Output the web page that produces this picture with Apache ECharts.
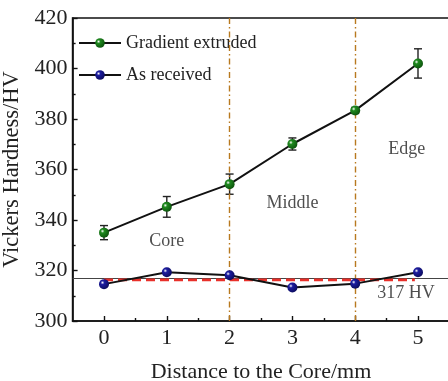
<!DOCTYPE html>
<html>
<head>
<meta charset="utf-8">
<script src="https://cdn.jsdelivr.net/npm/echarts@6/dist/echarts.min.js"></script>
<style>
  html, body { margin: 0; padding: 0; background: #fff; }
  #chart { width: 448px; height: 381px; }
</style>
</head>
<body>
<div id="chart"></div>
<script>
// Distance from the core (mm)
const distances = [0, 1, 2, 3, 4, 5];
// Hardness of the gradient-extruded sample and its scatter
const gradientHV = [335, 345.2, 354.2, 370.1, 383.4, 402];
const gradientErr = [2.8, 4.1, 4.0, 2.4, 1.2, 5.8];
// Hardness of the as-received sample
const receivedHV = [314.6, 319.3, 318.1, 313.3, 314.8, 319.3];
// Reference level and zone borders
const baseHV = 317;
const fitHV = [316.3, 316.3];
const fitX = [0, 4.95];
const zoneBorders = [2, 4];
const zoneLabels = [
  { name: 'Core', x: 1.0, y: 331.5 },
  { name: 'Middle', x: 3.0, y: 346.7 },
  { name: 'Edge', x: 4.82, y: 368 },
  { name: '317 HV', x: 4.81, y: 310.8 }
];
const xTicks = [0, 1, 2, 3, 4, 5];
const xMinorTicks = [0.5, 1.5, 2.5, 3.5, 4.5];

const FONT = '"Liberation Serif", "Times New Roman", serif';

function ball(c0, c1) {
  return {
    type: 'radial', x: 0.35, y: 0.35, r: 0.75,
    colorStops: [
      { offset: 0, color: '#ffffff' },
      { offset: 0.25, color: c0 },
      { offset: 1, color: c1 }
    ]
  };
}

const chart = echarts.init(document.getElementById('chart'), null, { renderer: 'canvas' });

const axisCommon = {
  min: -0.5, max: 5.5, type: 'value',
  splitLine: { show: false }
};

chart.setOption({
  animation: false,
  backgroundColor: '#ffffff',
  textStyle: { fontFamily: FONT, color: '#222' },
  grid: {
    left: 72.6, right: -1.4, top: 18, bottom: 60,
    outerBoundsMode: 'none', containLabel: false,
    show: true, borderColor: '#111', borderWidth: 1.6, backgroundColor: 'transparent'
  },
  legend: {
    orient: 'vertical', left: 78, top: 34, padding: 0, itemGap: 14,
    itemWidth: 42, itemHeight: 12,
    textStyle: { fontFamily: FONT, fontSize: 18, color: '#222' },
    data: ['Gradient extruded', 'As received']
  },
  xAxis: [
    Object.assign({}, axisCommon, {
      name: 'Distance to the Core/mm', nameLocation: 'middle', nameGap: 40,
      nameTextStyle: { fontFamily: FONT, fontSize: 22, color: '#222' },
      axisLine: { show: true, onZero: false, lineStyle: { color: '#111', width: 1.6 } },
      axisTick: { show: true, inside: true, length: 5, customValues: xTicks, lineStyle: { color: '#111', width: 1.4 } },
      axisLabel: { customValues: xTicks, fontFamily: FONT, fontSize: 22, color: '#222', margin: 6 }
    }),
    Object.assign({}, axisCommon, {
      position: 'bottom',
      axisLine: { show: false, onZero: false },
      axisTick: { show: true, inside: true, length: 3, customValues: xMinorTicks, lineStyle: { color: '#111', width: 1.4 } },
      axisLabel: { show: false }
    })
  ],
  yAxis: {
    type: 'value', min: 300, max: 420, interval: 20,
    name: 'Vickers Hardness/HV', nameLocation: 'middle', nameGap: 44,
    nameTextStyle: { fontFamily: FONT, fontSize: 22.5, color: '#222' },
    axisLine: { show: true, onZero: false, lineStyle: { color: '#111', width: 1.6 } },
    axisTick: { show: true, inside: true, length: 5, lineStyle: { color: '#111', width: 1.4 } },
    minorTick: { show: true, splitNumber: 2, length: 3, lineStyle: { color: '#111', width: 1.4 } },
    axisLabel: { fontFamily: FONT, fontSize: 22, color: '#222', margin: 5 },
    splitLine: { show: false }
  },
  series: [
    {
      name: 'Gradient extruded', type: 'line',
      data: distances.map((d, i) => [d, gradientHV[i]]),
      symbol: 'circle', symbolSize: 10,
      lineStyle: { color: '#111', width: 2 },
      itemStyle: { color: ball('#1f8a1f', '#0b4d0b'), borderWidth: 0 },
      z: 5,
      markLine: {
        silent: true, symbol: 'none', label: { show: false },
        lineStyle: { color: '#b8791f', type: [6, 3, 1.5, 3], width: 1.4 },
        data: zoneBorders.map(v => ({ xAxis: v }))
      }
    },
    {
      name: 'Gradient error', type: 'custom',
      data: distances.map((d, i) => [d, gradientHV[i] - gradientErr[i], gradientHV[i] + gradientErr[i]]),
      renderItem: function (params, api) {
        const lo = api.coord([api.value(0), api.value(1)]);
        const hi = api.coord([api.value(0), api.value(2)]);
        const w = 4;
        const st = { stroke: '#222', lineWidth: 1.4 };
        return {
          type: 'group',
          children: [
            { type: 'line', shape: { x1: lo[0], y1: lo[1], x2: hi[0], y2: hi[1] }, style: st },
            { type: 'line', shape: { x1: lo[0] - w, y1: lo[1], x2: lo[0] + w, y2: lo[1] }, style: st },
            { type: 'line', shape: { x1: hi[0] - w, y1: hi[1], x2: hi[0] + w, y2: hi[1] }, style: st }
          ]
        };
      },
      z: 4
    },
    {
      name: 'As received', type: 'line',
      data: distances.map((d, i) => [d, receivedHV[i]]),
      symbol: 'circle', symbolSize: 10,
      lineStyle: { color: '#111', width: 2 },
      itemStyle: { color: ball('#1c1ca0', '#0a0a55'), borderWidth: 0 },
      z: 7,
      markLine: {
        silent: true, symbol: 'none', label: { show: false },
        lineStyle: { color: '#444', type: 'solid', width: 1 },
        data: [[{ coord: [-0.5, baseHV] }, { coord: [5.5, baseHV] }]]
      }
    },
    {
      name: 'Average', type: 'line',
      data: fitX.map((x, i) => [x, fitHV[i]]),
      symbol: 'none',
      color: '#e8302a',
      lineStyle: { color: '#e8302a', type: [9, 5], width: 2.6 },
      z: 6
    },
    {
      name: 'Zones', type: 'scatter',
      data: zoneLabels.map(z => ({ value: [z.x, z.y], name: z.name })),
      symbolSize: 0,
      label: {
        show: true, position: 'inside', formatter: p => p.name,
        fontFamily: FONT, fontSize: 18, color: '#222'
      },
      z: 8
    }
  ]
});
</script>
</body>
</html>
